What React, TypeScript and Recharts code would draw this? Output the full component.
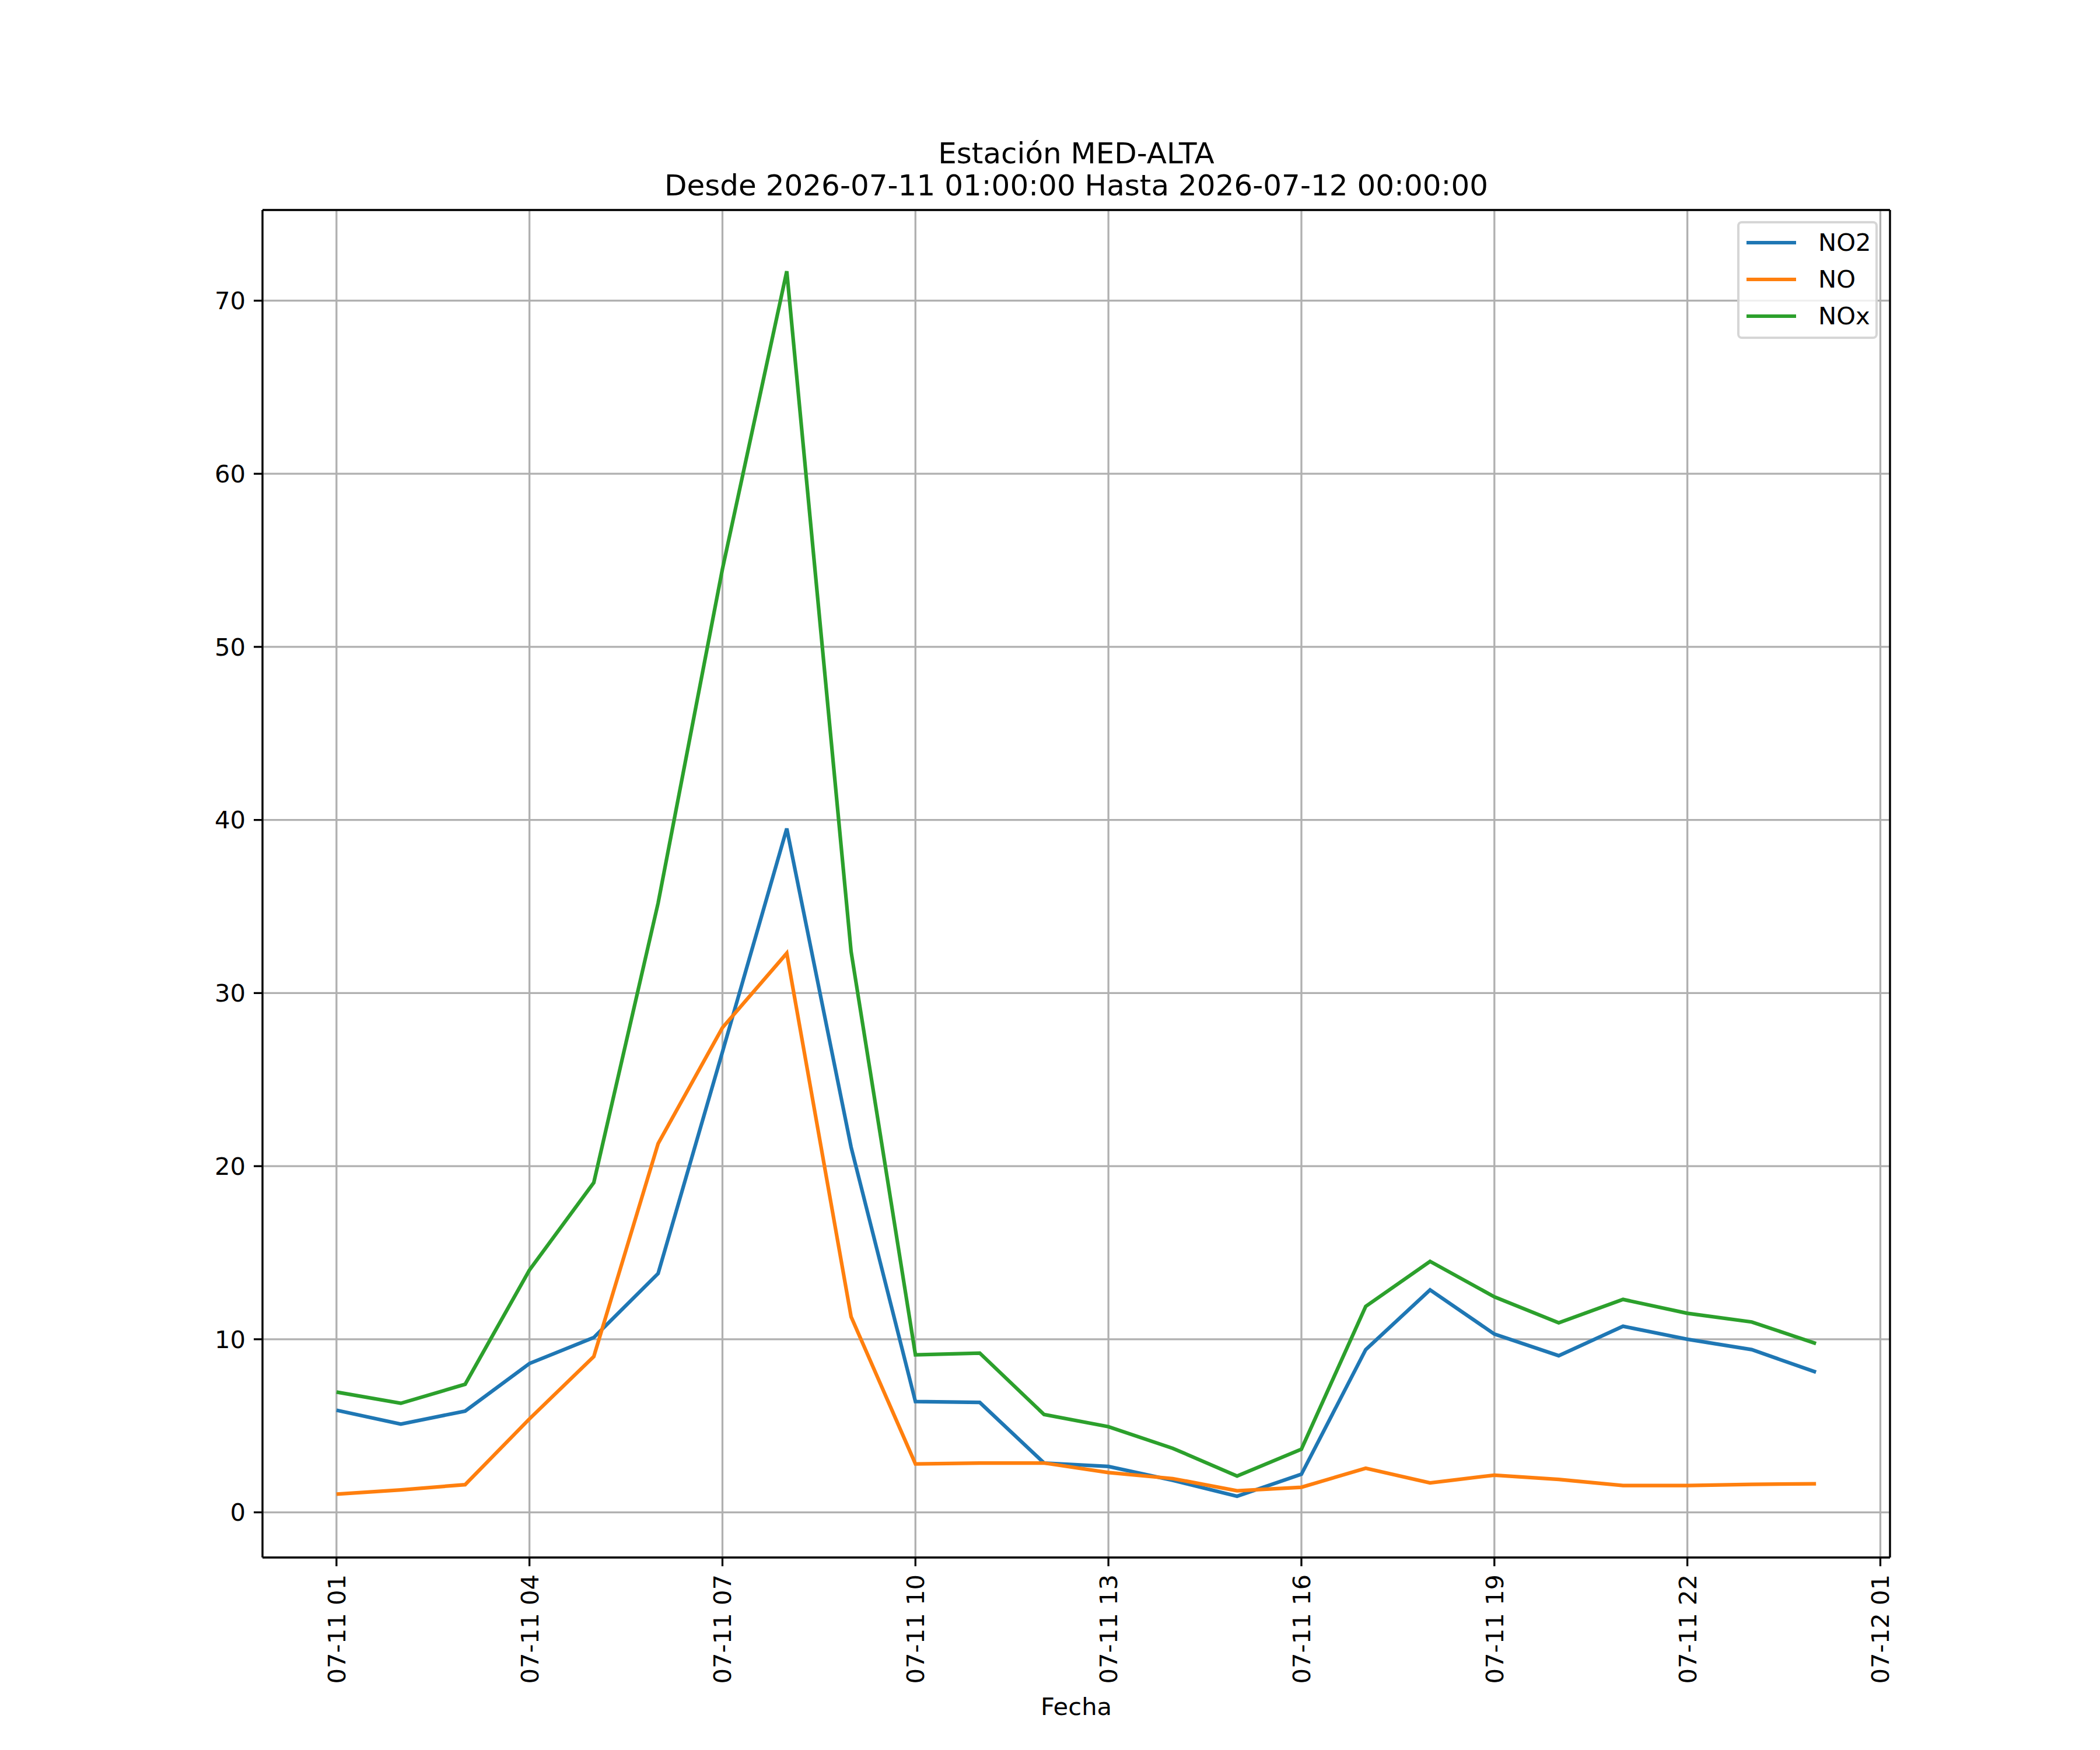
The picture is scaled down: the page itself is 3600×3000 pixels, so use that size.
import { Line, LineChart, XAxis, YAxis, CartesianGrid, Legend, ReferenceLine } from "recharts"

// hourly readings, 07-11 01:00 .. 07-12 00:00
const hours = [1, 2, 3, 4, 5, 6, 7, 8, 9, 10, 11, 12, 13, 14, 15, 16, 17, 18, 19, 20, 21, 22, 23, 24]
const no2Values = [5.9, 5.1, 5.85, 8.6, 10.1, 13.8, 26.6, 39.5, 21.1, 6.4, 6.35, 2.85, 2.65, 1.85, 0.93, 2.2, 9.4, 12.85, 10.3, 9.05, 10.75, 10.0, 9.4, 8.1]
const noValues = [1.05, 1.3, 1.6, 5.4, 9.0, 21.3, 28.0, 32.3, 11.3, 2.8, 2.85, 2.85, 2.3, 1.95, 1.25, 1.45, 2.55, 1.7, 2.15, 1.9, 1.55, 1.55, 1.62, 1.65]
const noxValues = [6.95, 6.3, 7.4, 14.0, 19.05, 35.2, 54.5, 71.7, 32.4, 9.1, 9.2, 5.65, 4.95, 3.7, 2.1, 3.65, 11.9, 14.5, 12.45, 10.95, 12.3, 11.5, 11.0, 9.75]

const xTicks = [1, 4, 7, 10, 13, 16, 19, 22, 25]
const xTickLabels = ["07-11 01", "07-11 04", "07-11 07", "07-11 10", "07-11 13", "07-11 16", "07-11 19", "07-11 22", "07-12 01"]
const yTicks = [0, 10, 20, 30, 40, 50, 60, 70]

const series = [
  { key: "NO2", color: "#1f77b4" },
  { key: "NO", color: "#ff7f0e" },
  { key: "NOx", color: "#2ca02c" },
]

const FONT = "'DejaVu Sans', sans-serif"
const FS = 41.7
const W = 3600
const H = 3000

const data = hours.map((h, i) => ({ hour: h, NO2: no2Values[i], NO: noValues[i], NOx: noxValues[i] }))

// matplotlib style 5% margins
const xPad = (hours[hours.length - 1] - hours[0]) * 0.05
const xDomain = [hours[0] - xPad, hours[hours.length - 1] + xPad]
const allY = [...no2Values, ...noValues, ...noxValues]
const yMin = Math.min(...allY)
const yMax = Math.max(...allY)
const yPad = (yMax - yMin) * 0.05
const yDomain = [yMin - yPad, yMax + yPad]

function XTick(props: any) {
  const { x, y, payload } = props
  const i = xTicks.indexOf(payload.value)
  return (
    <text
      x={x}
      y={y}
      transform={`rotate(-90 ${x} ${y})`}
      textAnchor="end"
      dy="0.36em"
      fontSize={FS}
      fontFamily={FONT}
      fill="#000"
    >
      {xTickLabels[i]}
    </text>
  )
}

function LegendBox() {
  return (
    <div
      style={{
        position: "relative",
        width: 241,
        height: 202,
        boxSizing: "border-box",
        border: "4px solid rgba(204,204,204,0.8)",
        borderRadius: 8,
        background: "rgba(255,255,255,0.8)",
        fontFamily: FONT,
        fontSize: FS,
        color: "#000",
      }}
    >
      {series.map((s, i) => (
        <div key={s.key} style={{ position: "absolute", left: 12, top: 33 + i * 63 - 25, height: 50, display: "flex", alignItems: "center" }}>
          <div style={{ width: 85, height: 6.25, background: s.color }} />
          <span style={{ marginLeft: 38, lineHeight: "50px" }}>{s.key}</span>
        </div>
      ))}
    </div>
  )
}

export default function App() {
  return (
    <div style={{ position: "absolute", left: 0, top: 0, width: W, height: H, background: "#fff" }}>
      <LineChart width={W} height={H} data={data} margin={{ top: 360, right: 360, bottom: 0, left: 0 }}>
        <CartesianGrid stroke="#b0b0b0" strokeWidth={3.3} />
        <XAxis
          dataKey="hour"
          type="number"
          domain={xDomain}
          allowDataOverflow
          ticks={xTicks}
          interval={0}
          height={330}
          tick={<XTick />}
          tickSize={15}
          tickMargin={14}
          axisLine={{ stroke: "#000", strokeWidth: 3.3 }}
          tickLine={{ stroke: "#000", strokeWidth: 3.3 }}
        />
        <YAxis
          type="number"
          domain={yDomain}
          allowDataOverflow
          ticks={yTicks}
          interval={0}
          width={450}
          tickSize={15}
          tickMargin={14}
          tick={{ fontSize: FS, fill: "#000", fontFamily: FONT }}
          axisLine={{ stroke: "#000", strokeWidth: 3.3 }}
          tickLine={{ stroke: "#000", strokeWidth: 3.3 }}
        />
        {/* top and right spines */}
        <ReferenceLine y={yDomain[1]} stroke="#000" strokeWidth={3.3} ifOverflow="visible" />
        <ReferenceLine x={xDomain[1]} stroke="#000" strokeWidth={3.3} ifOverflow="visible" />
        <Legend
          layout="vertical"
          align="center"
          verticalAlign="middle"
          content={() => <LegendBox />}
          wrapperStyle={{ left: 2978, top: 379, width: 241, height: 202 }}
        />
        {series.map((s) => (
          <Line
            key={s.key}
            type="linear"
            dataKey={s.key}
            name={s.key}
            stroke={s.color}
            strokeWidth={6.25}
            dot={false}
            activeDot={false}
            isAnimationActive={false}
          />
        ))}
      </LineChart>
      <svg width={W} height={H} style={{ position: "absolute", left: 0, top: 0, pointerEvents: "none" }}>
        <text x={1845} y={280} textAnchor="middle" fontSize={50} fontFamily={FONT} fill="#000">
          Estación MED-ALTA
        </text>
        <text x={1845} y={335} textAnchor="middle" fontSize={50} fontFamily={FONT} fill="#000">
          Desde 2026-07-11 01:00:00 Hasta 2026-07-12 00:00:00
        </text>
        <text x={1845} y={2940} textAnchor="middle" fontSize={FS} fontFamily={FONT} fill="#000">
          Fecha
        </text>
      </svg>
    </div>
  )
}
